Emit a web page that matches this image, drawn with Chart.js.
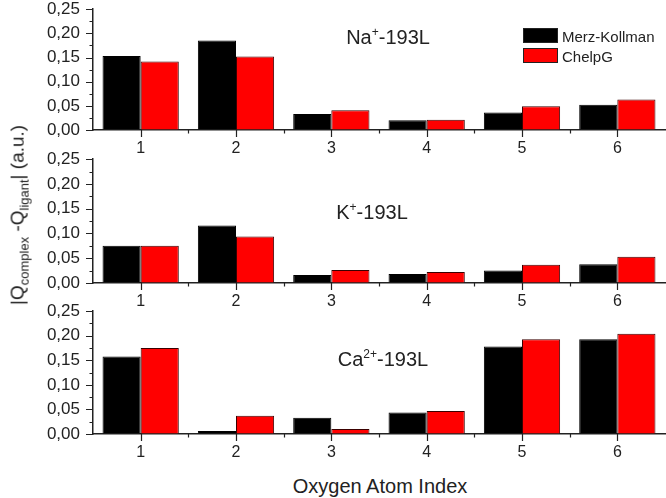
<!DOCTYPE html>
<html>
<head>
<meta charset="utf-8">
<script src="https://cdn.jsdelivr.net/npm/chart.js@4.4.0/dist/chart.umd.min.js"></script>
<style>
    body { margin: 0; background: #fff; font-family: "Liberation Sans", Arial, sans-serif; color: #222; }
    #wrap { position: relative; width: 666px; height: 498px; overflow: hidden; }
    canvas { position: absolute; left: 0; }
    .title { position: absolute; font-size: 20px; white-space: nowrap; transform: translate(-50%, -50%); }
    .title sup { font-size: 12px; }
    #ytitle { position: absolute; left: 19px; top: 215px; font-size: 19px; white-space: nowrap;
              transform: translate(-50%, -50%) rotate(-90deg); }
    #ytitle sub { font-size: 13px; }
    #xtitle { position: absolute; left: 380px; top: 486px; font-size: 20px; white-space: nowrap; transform: translate(-50%, -50%); }
    .lg { position: absolute; left: 523px; width: 33px; height: 13px; border: 1px solid #222; }
    .lgt { position: absolute; left: 562px; font-size: 15px; transform: translateY(-50%); }
</style>
</head>
<body>
<div id="wrap">
    <canvas id="naChart" width="666" height="161" style="top:-7px"></canvas>
    <canvas id="kChart" width="666" height="164" style="top:143px"></canvas>
    <canvas id="caChart" width="666" height="167" style="top:295px"></canvas>

    <div class="title" style="left:388px; top:37px">Na<sup>+</sup>-193L</div>
    <div class="title" style="left:372px; top:212px">K<sup>+</sup>-193L</div>
    <div class="title" style="left:383px; top:359px">Ca<sup>2+</sup>-193L</div>

    <div class="lg" style="top:28px; background:#000"></div>
    <div class="lgt" style="top:36px">Merz-Kollman</div>
    <div class="lg" style="top:48px; background:#ff0000"></div>
    <div class="lgt" style="top:56px">ChelpG</div>

    <div id="ytitle">|Q<sub>complex</sub> -Q<sub>ligant</sub>| (a.u.)</div>
    <div id="xtitle">Oxygen Atom Index</div>
</div>

<script>
const categories = ['1', '2', '3', '4', '5', '6'];

// Na+-193L
const naMerz = [0.153, 0.185, 0.033, 0.020, 0.036, 0.052];
const naChelpG = [0.142, 0.152, 0.041, 0.021, 0.049, 0.063];

// K+-193L
const kMerz = [0.075, 0.116, 0.016, 0.018, 0.025, 0.038];
const kChelpG = [0.075, 0.094, 0.026, 0.022, 0.037, 0.053];

// Ca2+-193L
const caMerz = [0.158, 0.006, 0.033, 0.044, 0.178, 0.193];
const caChelpG = [0.175, 0.037, 0.010, 0.047, 0.193, 0.204];

const yMin = 0;
const yMax = 0.25;
const yStep = 0.05;

// origin style ticks: major + minor, pointing outwards
const axisTicks = {
    id: 'axisTicks',
    afterDraw(chart) {
        const ctx = chart.ctx;
        const x = chart.scales.x;
        const y = chart.scales.y;
        ctx.save();
        ctx.strokeStyle = '#222';
        ctx.lineWidth = 1.2;
        ctx.beginPath();
        for (let i = 0; i <= 10; i++) {
            const py = Math.round(y.getPixelForValue(i * yStep / 2)) + 0.5;
            const len = i % 2 === 0 ? 7 : 3.5;
            ctx.moveTo(y.right - len, py);
            ctx.lineTo(y.right, py);
        }
        for (let i = 0; i < categories.length; i++) {
            const px = Math.round(x.getPixelForValue(i)) + 0.5;
            ctx.moveTo(px, x.top);
            ctx.lineTo(px, x.top + 7);
            if (i < categories.length - 1) {
                const mx = Math.round((x.getPixelForValue(i) + x.getPixelForValue(i + 1)) / 2) + 0.5;
                ctx.moveTo(mx, x.top);
                ctx.lineTo(mx, x.top + 3.5);
            }
        }
        ctx.stroke();
        ctx.restore();
    }
};

function makePanel(id, merz, chelpg, xHeight) {
    new Chart(document.getElementById(id), {
        type: 'bar',
        data: {
            labels: categories,
            datasets: [
                {
                    label: 'Merz-Kollman',
                    data: merz,
                    backgroundColor: '#000000',
                    borderColor: '#000000',
                    borderWidth: 1,
                },
                {
                    label: 'ChelpG',
                    data: chelpg,
                    backgroundColor: '#ff0000',
                    borderColor: '#3a0000',
                    borderWidth: 1,
                },
            ],
        },
        options: {
            responsive: false,
            animation: false,
            devicePixelRatio: 1,
            categoryPercentage: 0.8,
            barPercentage: 1.0,
            layout: {
                padding: { top: 0, right: 1, left: 0, bottom: 0 }
            },
            plugins: {
                legend: { display: false },
                tooltip: { enabled: false },
            },
            scales: {
                x: {
                    offset: true,
                    grid: { display: true, drawOnChartArea: false, drawTicks: true, tickLength: 7, color: 'rgba(0,0,0,0)' },
                    border: { display: true, color: '#222', width: 1.5 },
                    ticks: {
                        autoSkip: false,
                        color: '#222',
                        padding: 2,
                        font: { family: '"Liberation Sans", Arial, sans-serif', size: 16 },
                    },
                    afterFit(scale) { scale.height = xHeight; },
                },
                y: {
                    min: yMin,
                    max: yMax,
                    grid: { display: true, drawOnChartArea: false, drawTicks: true, tickLength: 7, color: 'rgba(0,0,0,0)' },
                    border: { display: true, color: '#222', width: 1.5 },
                    ticks: {
                        autoSkip: false,
                        stepSize: yStep,
                        color: '#222',
                        padding: 6,
                        font: { family: '"Liberation Sans", Arial, sans-serif', size: 17 },
                        callback: (v) => v.toFixed(2).replace('.', ','),
                    },
                    afterFit(scale) { scale.width = 93; },
                },
            },
        },
        plugins: [axisTicks],
    });
}

makePanel('naChart', naMerz, naChelpG, 24);
makePanel('kChart', kMerz, kChelpG, 24);
makePanel('caChart', caMerz, caChelpG, 28);
</script>
</body>
</html>
